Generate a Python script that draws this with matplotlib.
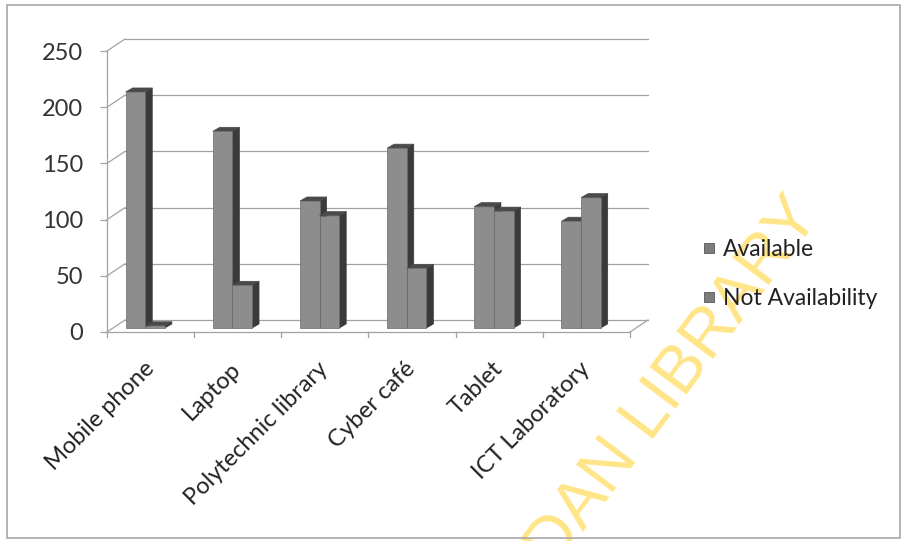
import matplotlib
matplotlib.use("Agg")
import matplotlib.pyplot as plt
from matplotlib.patches import Polygon, Rectangle
from matplotlib.lines import Line2D

# ---- data ----
categories = ["Mobile phone", "Laptop", "Polytechnic library", "Cyber café", "Tablet", "ICT Laboratory"]
available = [210, 175, 113, 160, 108, 95]
not_available = [2, 38, 100, 53, 104, 116]
series_names = ["Available", "Not Availability"]
y_ticks = [0, 50, 100, 150, 200, 250]

W, H, DPI = 903, 541, 100
fig = plt.figure(figsize=(W / DPI, H / DPI), dpi=DPI)
fig.patch.set_facecolor("white")

FONT = ["Lato", "DejaVu Sans"]
FS = 17

# front plane of the plot box, in pixels
x0_px, x1_px = 107, 630
y0_px, y1_px = 332, 51
ax = fig.add_axes([x0_px / W, 1 - y0_px / H, (x1_px - x0_px) / W, (y0_px - y1_px) / H])
ax.set_xlim(-0.5, len(categories) - 0.5)
ax.set_ylim(0, 250)
for s in ax.spines.values():
    s.set_visible(False)
ax.set_facecolor("none")

px_x = (len(categories)) / (x1_px - x0_px)   # data units per pixel (x)
px_y = 250 / (y0_px - y1_px)                 # data units per pixel (y)

# depth of the chart box (back wall offset)
DX, DY = 18 * px_x, 12 * px_y
grid_col = "#a2a2a2"
xl, xr = -0.5, len(categories) - 0.5

# back wall gridlines and connecting diagonals on the left wall
for yv in y_ticks:
    ax.plot([xl + DX, xr + DX], [yv + DY, yv + DY], color=grid_col, lw=0.9, clip_on=False, zorder=1)
    ax.plot([xl, xl + DX], [yv, yv + DY], color=grid_col, lw=0.9, clip_on=False, zorder=1)
# floor front edge and right diagonal
ax.plot([xl, xr], [0, 0], color=grid_col, lw=0.9, clip_on=False, zorder=1)
ax.plot([xr, xr + DX], [0, DY], color=grid_col, lw=0.9, clip_on=False, zorder=1)
# value axis line
ax.plot([xl, xl], [0, 250], color=grid_col, lw=0.9, clip_on=False, zorder=1)

# ticks
ax.set_yticks(y_ticks)
ax.set_yticklabels([str(v) for v in y_ticks], fontsize=FS, family=FONT, color="#333333")
ax.tick_params(axis="y", length=5, width=0.9, color=grid_col, pad=12)
ax.set_xticks(range(len(categories)))
ax.set_xticklabels(categories, rotation=45, ha="right", va="center", rotation_mode="anchor",
                   fontsize=FS, family=FONT, color="#222222")
ax.tick_params(axis="x", length=0, pad=24)
# category boundary ticks on the floor edge
for b in range(len(categories) + 1):
    ax.plot([b - 0.5, b - 0.5], [0, -5 * px_y], color=grid_col, lw=0.9, clip_on=False, zorder=1)

# 3-D looking columns
bar_w = 0.225
group_shift = -0.13
lift_x, lift_y = 6 * px_x, 4 * px_y
side_dx, side_dy = 7 * px_x, 4 * px_y
front_col = "#8d8d8d"
side_col = "#3a3a3a"
top_col = "#4a4a4a"

for i in range(len(categories)):
    for k, vals in enumerate([available, not_available]):
        h = vals[i]
        left = i + group_shift + (k - 1) * bar_w + lift_x
        right = left + bar_w
        base = lift_y
        z = 3 + i * 3 + k
        ax.bar(left, h, width=bar_w, bottom=base, align="edge", color=front_col,
               edgecolor="#6a6a6a", linewidth=0.5, zorder=z + 0.2)
        side = Polygon([(right, base), (right, base + h), (right + side_dx, base + h + side_dy),
                        (right + side_dx, base + side_dy)], closed=True,
                       facecolor=side_col, edgecolor=side_col, lw=0.5, zorder=z + 0.1)
        top = Polygon([(left, base + h), (right, base + h), (right + side_dx, base + h + side_dy),
                       (left + side_dx, base + h + side_dy)], closed=True,
                      facecolor=top_col, edgecolor=top_col, lw=0.5, zorder=z + 0.1)
        ax.add_patch(side)
        ax.add_patch(top)

# legend
handles = [Line2D([], [], linestyle="none", marker="s", markersize=7.5,
                  markerfacecolor="#7d7d7d", markeredgecolor="#555555", markeredgewidth=0.6)
           for _ in series_names]
leg = fig.legend(handles, series_names, loc="center left", bbox_to_anchor=(691 / W, 1 - 274 / H),
                 frameon=False, prop={"family": FONT, "size": 16.5}, handlelength=0.6,
                 handletextpad=0.3, labelspacing=1.25, borderpad=0)
for t in leg.get_texts():
    t.set_color("#222222")

# outer chart border
fig.patches.append(Rectangle((7 / W, 1 - 538 / H), (900 - 7) / W, (538 - 5) / H,
                             transform=fig.transFigure, fill=False, edgecolor="#a8a8a8", lw=1.2))

# library watermark
fig.text(822 / W, 1 - 216 / H, "UNIVERSITY OF IBADAN LIBRARY", rotation=53, rotation_mode="anchor",
         ha="right", va="baseline", fontsize=48, family=["Liberation Sans", "DejaVu Sans"],
         color="#ffe27a", alpha=0.9, zorder=0)

fig.savefig("out.png", dpi=DPI)
